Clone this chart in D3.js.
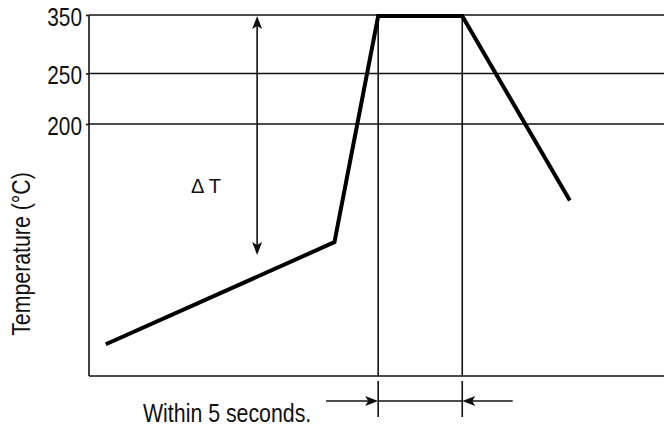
<!DOCTYPE html>
<html><head><meta charset="utf-8">
<script src="https://cdn.jsdelivr.net/npm/d3@7"></script>
<style>
html,body{margin:0;padding:0;background:#fff;}
svg{display:block;}
.narrow{font-family:"Liberation Sans Narrow","Arial Narrow","Liberation Sans",Arial,sans-serif;}
</style></head>
<body>
<svg id="c" width="664" height="428"></svg>
<script>
// ---- data ----
const yTickValues = [350, 250, 200];
const yTickLabels = ["350", "250", "200"];
const profileTime = [1.0, 14.6, 17.2, 22.2, 28.6];      // seconds (schematic)
const profileTemp = [26, 107, 350, 350, 140];            // °C (schematic)
const peakWindow = [17.2, 22.2];                         // "Within 5 seconds."
const dimArrowTails = [14.1, 25.2];
const deltaTTime = 10.0;
const deltaTRange = [350, 96];
const yTitle = "Temperature (°C)";
const windowLabel = "Within 5 seconds.";
const deltaLabel = "Δ T";

// ---- layout ----
const svg = d3.select("#c");
const x = d3.scaleLinear().domain([0, 34.2]).range([89, 664]);
const y = d3.scaleLinear().domain([0, 200, 250, 350]).range([376, 124, 73.5, 15]);

const ink = "#111";

// condense text horizontally (narrow face emulation)
function condense(sel, factor) {
  sel.each(function () {
    const w = this.getComputedTextLength();
    d3.select(this).attr("textLength", w * factor).attr("lengthAdjust", "spacingAndGlyphs");
  });
}

// horizontal gridlines
svg.append("g").selectAll("line").data(yTickValues).join("line")
  .attr("x1", x(0)).attr("x2", 664)
  .attr("y1", d => y(d)).attr("y2", d => y(d))
  .attr("stroke", ink).attr("stroke-width", 1.6);

// axes
const yAxis = d3.axisLeft(y).tickValues(yTickValues)
  .tickFormat((d, i) => yTickLabels[i]).tickSize(3).tickPadding(4);
const gy = svg.append("g").attr("transform", `translate(${x(0)},0)`).call(yAxis);
gy.select(".domain").remove();
gy.selectAll(".tick line").attr("stroke", ink).attr("stroke-width", 1.6);
gy.selectAll(".tick text").attr("class", "narrow").style("font-size", "26px")
  .attr("fill", ink).attr("dy", "0.4em").call(condense, 0.8);
svg.append("line").attr("x1", x(0)).attr("x2", x(0)).attr("y1", y(350)).attr("y2", y(0))
  .attr("stroke", ink).attr("stroke-width", 1.6);
svg.append("line").attr("x1", x(0)).attr("x2", 664).attr("y1", y(0)).attr("y2", y(0))
  .attr("stroke", ink).attr("stroke-width", 1.6);

// peak window vertical lines
svg.append("g").selectAll("line").data(peakWindow).join("line")
  .attr("x1", d => x(d)).attr("x2", d => x(d))
  .attr("y1", y(350)).attr("y2", y(0))
  .attr("stroke", ink).attr("stroke-width", 1.6);
// extension lines
svg.append("g").selectAll("line").data(peakWindow).join("line")
  .attr("x1", d => x(d)).attr("x2", d => x(d))
  .attr("y1", y(0) + 5).attr("y2", y(0) + 41)
  .attr("stroke", ink).attr("stroke-width", 1.6);

// arrowhead helper
function arrowHead(tx, ty, angleDeg) {
  const L = 13, W = 5, n = 3;
  const p = `M0,0 L${-L},${-W} L${-L + n},0 L${-L},${W} Z`;
  svg.append("path").attr("d", p).attr("fill", ink)
    .attr("transform", `translate(${tx},${ty}) rotate(${angleDeg})`);
}

// dimension line
const dimY = y(0) + 25;
svg.append("line").attr("x1", x(dimArrowTails[0])).attr("x2", x(peakWindow[0]) - 4)
  .attr("y1", dimY).attr("y2", dimY).attr("stroke", ink).attr("stroke-width", 1.6);
arrowHead(x(peakWindow[0]), dimY, 0);
svg.append("line").attr("x1", x(peakWindow[0])).attr("x2", x(peakWindow[1]))
  .attr("y1", dimY).attr("y2", dimY).attr("stroke", ink).attr("stroke-width", 1.6);
svg.append("line").attr("x1", x(dimArrowTails[1])).attr("x2", x(peakWindow[1]) + 4)
  .attr("y1", dimY).attr("y2", dimY).attr("stroke", ink).attr("stroke-width", 1.6);
arrowHead(x(peakWindow[1]), dimY, 180);

// delta T arrow
const dx = x(deltaTTime);
svg.append("line").attr("x1", dx).attr("x2", dx)
  .attr("y1", y(deltaTRange[0]) + 5).attr("y2", y(deltaTRange[1]) - 5)
  .attr("stroke", ink).attr("stroke-width", 1.6);
arrowHead(dx, y(deltaTRange[0]) + 1, -90);
arrowHead(dx, y(deltaTRange[1]), 90);

// profile line
const pts = profileTime.map((t, i) => [t, profileTemp[i]]);
svg.append("path").datum(pts)
  .attr("d", d3.line().x(d => x(d[0])).y(d => y(d[1]) + 1))
  .attr("fill", "none").attr("stroke", "#000").attr("stroke-width", 4)
  .attr("stroke-linejoin", "miter");

// texts
svg.append("text").attr("class", "narrow").style("font-size", "26px").attr("fill", ink)
  .attr("text-anchor", "middle")
  .attr("transform", `translate(30,254) rotate(-90)`).text(yTitle).call(condense, 0.82);
svg.append("text").attr("class", "narrow").style("font-size", "26px").attr("fill", ink)
  .attr("x", 143).attr("y", 422).text(windowLabel).call(condense, 0.82);
svg.append("text").style("font-family", "'Liberation Sans',Arial,sans-serif")
  .style("font-size", "20px").attr("fill", ink)
  .attr("x", 191).attr("y", 193).text(deltaLabel);
</script>
</body></html>
